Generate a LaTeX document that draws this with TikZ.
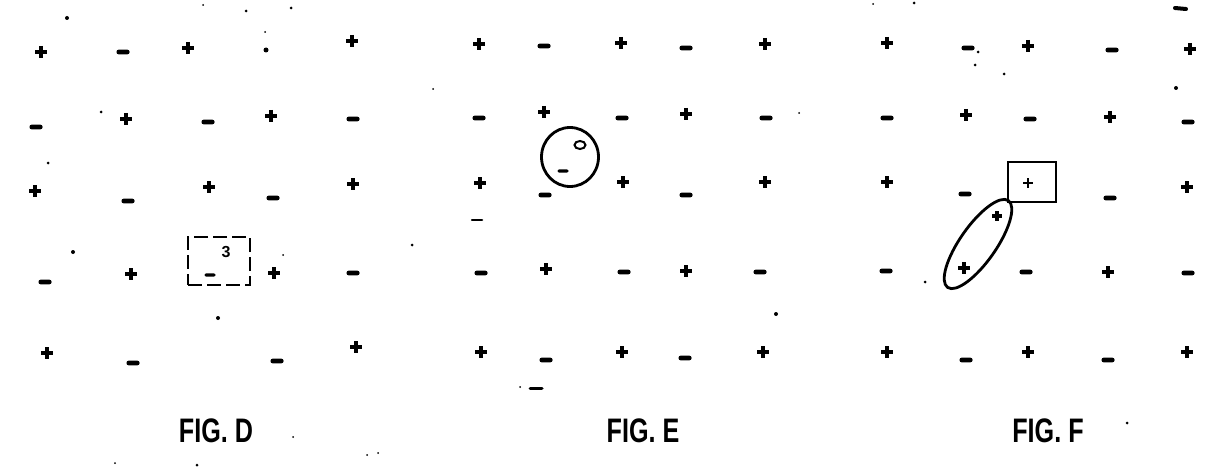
\documentclass[tikz,border=0pt]{standalone}
\usepackage{fontspec}
\setmainfont{Liberation Sans}
\usetikzlibrary{shapes.geometric}

\begin{document}
\begin{tikzpicture}[x=1pt, y=-1pt,
    pos sign/.style={rectangle, inner sep=0pt, minimum size=12pt,
      path picture={\draw[line width=4pt]
        (path picture bounding box.north) -- (path picture bounding box.south)
        (path picture bounding box.west) -- (path picture bounding box.east);}},
    neg sign/.style={rectangle, rounded corners=2pt, fill=black, inner sep=0pt,
                     minimum width=13pt, minimum height=4.6pt},
    small sign/.style={rectangle, inner sep=0pt, minimum size=10pt,
      path picture={\draw[line width=2pt]
        (path picture bounding box.north) -- (path picture bounding box.south)
        (path picture bounding box.west) -- (path picture bounding box.east);}},
    thin neg/.style={neg sign, minimum width=11pt, minimum height=3.4pt},
    outline/.style={draw, line width=2.8pt, inner sep=0pt},
    figlabel/.style={font=\bfseries\fontsize{34}{34}\selectfont, xscale=0.74, inner sep=0pt},
  ]
    \useasboundingbox (0,0) rectangle (1223,468);

    % FIG. D
    \foreach \x/\y/\s [count=\i] in {41/52/pos, 123/52/neg, 188/48/pos, 352/41/pos,
        36/127/neg, 126/119/pos, 208/122/neg, 271/116/pos, 353/119/neg,
        35/191/pos, 128/201/neg, 209/187/pos, 273/198/neg, 353/184/pos,
        45/282/neg, 131/274/pos, 274/273/pos, 353/273/neg,
        47/353/pos, 133/363/neg, 277/361/neg, 356/347/pos}
      \node[\s\space sign] (d\i) at (\x,\y) {};
    \node[outline, dash pattern=on 14pt off 5pt, minimum width=62pt, minimum height=48pt] (dbox) at (219,261) {};
    \node[font=\bfseries\fontsize{16}{16}\selectfont, inner sep=0pt] (dthree) at (226,252) {3};
    \node[thin neg] (dneg) at (210,275) {};
    \node[figlabel] (labd) at (216,431) {FIG. D};

    % FIG. E
    \foreach \x/\y/\s [count=\i] in {479/44/pos, 544/46/neg, 621/43/pos, 686/48/neg, 765/44/pos,
        479/118/neg, 544/112/pos, 622/118/neg, 686/114/pos, 766/118/neg,
        480/183/pos, 545/195/neg, 623/182/pos, 686/195/neg, 765/182/pos,
        481/273/neg, 546/269/pos, 624/272/neg, 686/271/pos, 760/272/neg,
        481/352/pos, 546/360/neg, 622/352/pos, 685/358/neg, 763/352/pos}
      \node[\s\space sign] (e\i) at (\x,\y) {};
    \node[outline, ellipse, minimum width=57pt, minimum height=59pt] (ering) at (570,157) {};
    \node[outline, ellipse, line width=2pt, minimum width=11pt, minimum height=8pt] (ezero) at (580,145) {};
    \node[thin neg] (eneg) at (563,171) {};
    \node[figlabel] (labe) at (643,431) {FIG. E};

    % FIG. F
    \foreach \x/\y/\s [count=\i] in {887/43/pos, 968/48/neg, 1028/46/pos, 1112/50/neg, 1190/49/pos,
        887/118/neg, 966/115/pos, 1030/119/neg, 1110/117/pos, 1188/122/neg,
        887/182/pos, 965/194/neg, 1028/183/small, 1110/198/neg, 1187/187/pos,
        886/271/neg, 964/268/pos, 1026/272/neg, 1108/272/pos, 1188/273/neg,
        887/352/pos, 966/360/neg, 1028/352/pos, 1108/360/neg, 1187/352/pos}
      \node[\s\space sign] (f\i) at (\x,\y) {};
    \node[pos sign, minimum size=10pt] (fextra) at (997,216) {};
    \node[outline, minimum width=48pt, minimum height=40pt] (fbox) at (1032,182) {};
    \node[outline, ellipse, minimum width=106pt, minimum height=36pt, rotate=55] (fpair) at (978,244) {};
    \node[figlabel] (labf) at (1048,431) {FIG. F};

    % specks
    \foreach \x/\y/\r in {67/18/2, 203/5/1, 246/11/1.5, 291/8/1.5, 265/32/1, 266/50/2.5,
        101/112/1.5, 48/163/1.5, 73/252/2, 412/245/1.5, 283/255/1, 218/318/2,
        433/89/1, 799/113/1, 776/314/2, 978/52/1.5, 975/65/1.5, 1004/74/1.5,
        1176/88/2, 925/282/1.5, 914/3/1.5, 873/4/1, 1127/423/1.5, 293/437/1,
        367/455/1, 378/453/1, 115/463/1, 197/465/1.5, 520/387/1}
      \fill (\x,\y) circle[radius=\r];
    \draw[line width=2.5pt, line cap=round] (472,220) -- (482,220);
    \draw[line width=3pt, line cap=round] (530,388) -- (542,388);
    \draw[line width=4pt, line cap=round] (1175,8) -- (1186,9);
  \end{tikzpicture}
\end{document}
